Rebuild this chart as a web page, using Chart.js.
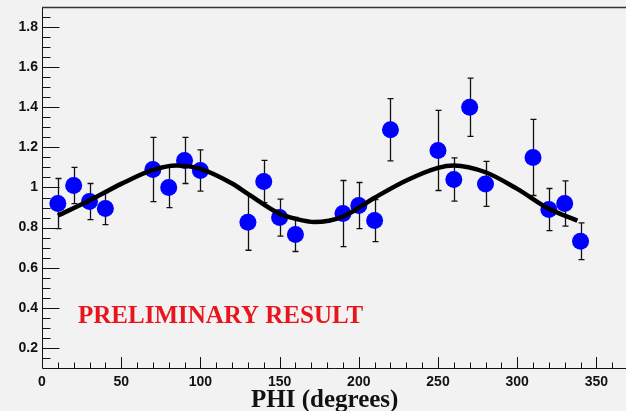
<!DOCTYPE html>
<html lang="en">
<head>
    <meta charset="UTF-8">
    <title>PHI distribution</title>
    <style>
        body {
            margin: 0;
            padding: 0;
            background-color: #f2f2f2;
        }
        .container {
            width: 626px;
            height: 411px;
        }
    </style>
</head>
<body>
    <div class="container">
        <canvas id="chart" width="626" height="411"></canvas>
    </div>

    <script src="https://cdn.jsdelivr.net/npm/chart.js"></script>
    <script>
        // measured points: angle, ratio and its error
        const phi = [10, 20, 30, 40, 70, 80, 90, 100, 130, 140, 150, 160, 190, 200, 210, 220, 250, 260, 270, 280, 310, 320, 330, 340];
        const ratio = [0.92, 1.01, 0.93, 0.895, 1.09, 1.0, 1.135, 1.085, 0.827, 1.03, 0.85, 0.766, 0.87, 0.91, 0.835, 1.288, 1.185, 1.04, 1.40, 1.018, 1.15, 0.89, 0.92, 0.732];
        const ratioErr = [0.125, 0.09, 0.09, 0.08, 0.16, 0.1, 0.115, 0.103, 0.14, 0.105, 0.092, 0.085, 0.165, 0.115, 0.105, 0.155, 0.2, 0.108, 0.145, 0.112, 0.19, 0.105, 0.113, 0.092];

        // fit curve
        const fitPhi = [10, 30, 50, 70, 85, 100, 120, 130, 150, 160, 172, 190, 210, 230, 250, 260, 280, 300, 320, 338];
        const fitVal = [0.86, 0.935, 1.018, 1.088, 1.11, 1.093, 1.02, 0.968, 0.869, 0.844, 0.828, 0.855, 0.949, 1.035, 1.098, 1.11, 1.076, 0.993, 0.894, 0.835];

        const xTicks = [0, 50, 100, 150, 200, 250, 300, 350];
        const yTicks = [0.2, 0.4, 0.6, 0.8, 1.0, 1.2, 1.4, 1.6, 1.8];

        const X_MIN = 0, X_MAX = 368.7, Y_MIN = 0.1, Y_MAX = 1.9;

        // ROOT style frame: axis lines and ticks pointing inwards
        const framePlugin = {
            id: 'frame',
            beforeDatasetsDraw(chart) {
                const ctx = chart.ctx;
                const a = chart.chartArea;
                const xs = chart.scales.x, ys = chart.scales.y;
                ctx.save();
                ctx.strokeStyle = '#111';
                ctx.lineWidth = 1;
                ctx.beginPath();
                ctx.moveTo(a.left + 0.5, a.top + 0.5);
                ctx.lineTo(a.left + 0.5, a.bottom + 0.5);
                ctx.lineTo(chart.width, a.bottom + 0.5);
                ctx.stroke();
                ctx.strokeStyle = '#333';
                ctx.lineWidth = 1.5;
                ctx.beginPath();
                ctx.moveTo(a.left, a.top + 0.5);
                ctx.lineTo(chart.width, a.top + 0.5);
                ctx.stroke();

                ctx.strokeStyle = '#111';
                ctx.lineWidth = 1;
                ctx.beginPath();
                for (let v = 10; v < X_MAX; v += 10) {
                    const px = Math.round(xs.getPixelForValue(v)) + 0.5;
                    const len = v % 50 === 0 ? 11 : 5.5;
                    ctx.moveTo(px, a.bottom);
                    ctx.lineTo(px, a.bottom - len);
                }
                for (let k = 3; k < 38; k++) {
                    const v = k * 0.05;
                    const py = Math.round(ys.getPixelForValue(v)) + 0.5;
                    const len = k % 4 === 0 ? 17.5 : 8.5;
                    ctx.moveTo(a.left, py);
                    ctx.lineTo(a.left + len, py);
                }
                ctx.stroke();

                // error bars sit under the markers
                ctx.strokeStyle = '#111';
                ctx.lineWidth = 1.3;
                ctx.beginPath();
                for (let i = 0; i < phi.length; i++) {
                    const px = Math.round(xs.getPixelForValue(phi[i])) + 0.5;
                    const top = ys.getPixelForValue(ratio[i] + ratioErr[i]);
                    const bot = ys.getPixelForValue(ratio[i] - ratioErr[i]);
                    ctx.moveTo(px, top);
                    ctx.lineTo(px, bot);
                    ctx.moveTo(px - 3, top);
                    ctx.lineTo(px + 3, top);
                    ctx.moveTo(px - 3, bot);
                    ctx.lineTo(px + 3, bot);
                }
                ctx.stroke();
                ctx.restore();
            },
            afterDraw(chart) {
                const ctx = chart.ctx;
                ctx.save();
                ctx.textBaseline = 'alphabetic';
                ctx.textAlign = 'left';
                ctx.font = 'bold 25px "Liberation Serif", serif';
                ctx.fillStyle = '#e8161c';
                ctx.fillText('PRELIMINARY RESULT', 78, 323);
                ctx.fillStyle = '#111';
                ctx.fillText('PHI (degrees)', 251, 407);
                ctx.restore();
            }
        };

        const ctx = document.getElementById('chart').getContext('2d');
        const chart = new Chart(ctx, {
            type: 'scatter',
            data: {
                datasets: [
                    {
                        label: 'fit',
                        data: fitPhi.map((x, i) => ({ x: x, y: fitVal[i] })),
                        showLine: true,
                        borderColor: '#000',
                        borderWidth: 4.5,
                        pointRadius: 0,
                        cubicInterpolationMode: 'monotone',
                        order: 0
                    },
                    {
                        label: 'data',
                        data: phi.map((x, i) => ({ x: x, y: ratio[i] })),
                        backgroundColor: '#0000ff',
                        borderWidth: 0,
                        pointRadius: 8.5,
                        order: 1
                    }
                ]
            },
            options: {
                responsive: false,
                animation: false,
                layout: { autoPadding: false, padding: { top: 7, right: 0, bottom: 0, left: 0 } },
                plugins: {
                    legend: { display: false },
                    tooltip: { enabled: false }
                },
                scales: {
                    x: {
                        type: 'linear',
                        min: X_MIN,
                        max: X_MAX,
                        afterBuildTicks: s => { s.ticks = xTicks.map(v => ({ value: v })); },
                        afterFit: s => { s.height = 43; s.paddingLeft = 0; s.paddingRight = 0; },
                        grid: { display: false, drawTicks: false },
                        border: { display: false },
                        ticks: {
                            autoSkip: false,
                            maxRotation: 0,
                            padding: 6,
                            color: '#111',
                            font: { family: '"Liberation Sans", Arial, sans-serif', size: 14, weight: 'bold' }
                        }
                    },
                    y: {
                        type: 'linear',
                        min: Y_MIN,
                        max: Y_MAX,
                        afterBuildTicks: s => { s.ticks = yTicks.map(v => ({ value: v })); },
                        afterFit: s => { s.width = 42; s.paddingTop = 0; s.paddingBottom = 0; },
                        grid: { display: false, drawTicks: false },
                        border: { display: false },
                        ticks: {
                            autoSkip: false,
                            padding: 4,
                            color: '#111',
                            font: { family: '"Liberation Sans", Arial, sans-serif', size: 14, weight: 'bold' },
                            callback: v => (Math.abs(v - 1) < 1e-9 ? '1' : v.toFixed(1))
                        }
                    }
                }
            },
            plugins: [framePlugin]
        });
    </script>
</body>
</html>
